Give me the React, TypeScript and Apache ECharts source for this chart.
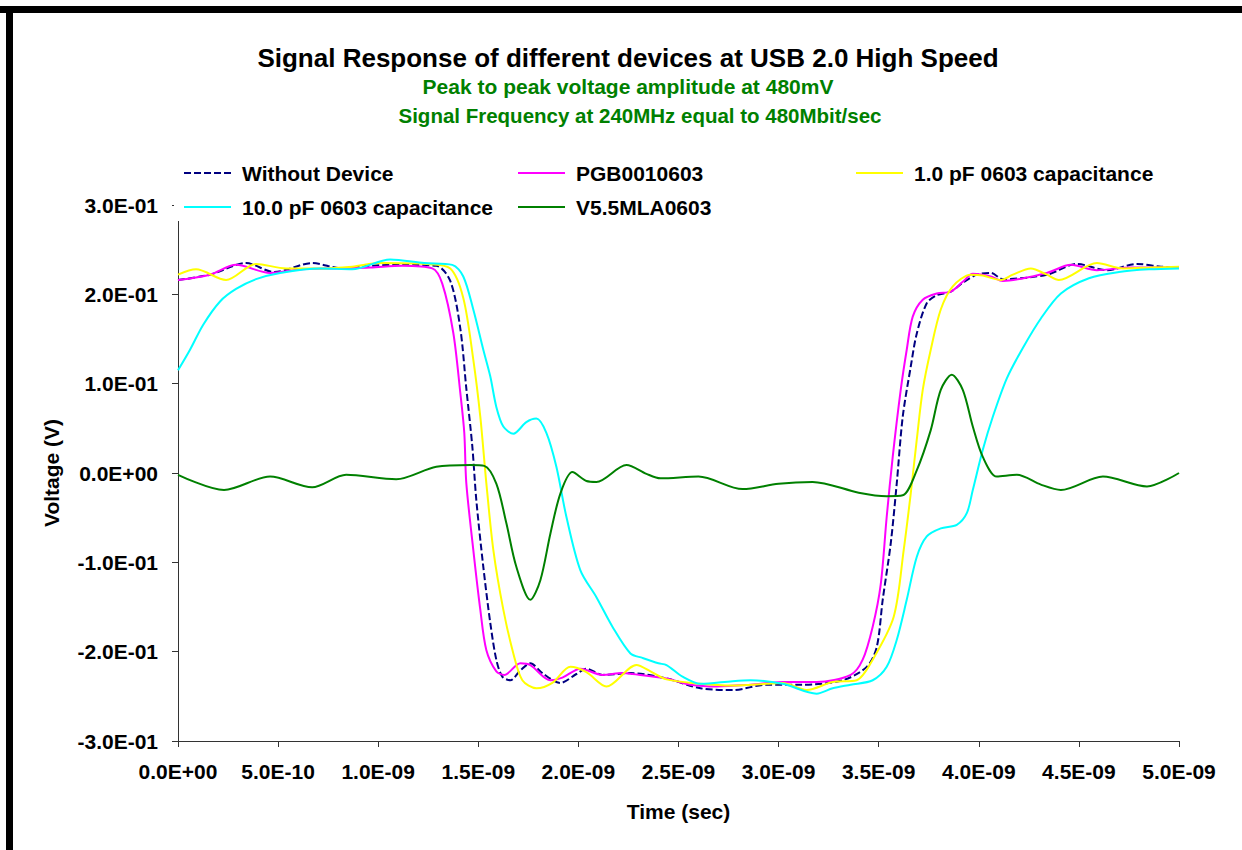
import React, { useEffect, useRef } from "react";
import * as echarts from "echarts";

// time in ns, voltage in V
const seriesNames = [
  "Without Device",
  "PGB0010603",
  "1.0 pF 0603 capacitance",
  "10.0 pF 0603 capacitance",
  "V5.5MLA0603",
];

const withoutDevice: [number, number][] = [
  [0, 0.216], [0.16, 0.222], [0.34, 0.235], [0.48, 0.225], [0.67, 0.235], [0.82, 0.229],
  [0.96, 0.232], [1.12, 0.233], [1.29, 0.232], [1.36, 0.215], [1.41, 0.162], [1.44, 0.095],
  [1.47, 0.03], [1.49, -0.03], [1.525, -0.105], [1.56, -0.168], [1.59, -0.209], [1.62, -0.228],
  [1.66, -0.232], [1.71, -0.221], [1.76, -0.213], [1.82, -0.224], [1.91, -0.235], [1.99, -0.225],
  [2.04, -0.219], [2.12, -0.226], [2.26, -0.224], [2.44, -0.23], [2.61, -0.241], [2.77, -0.243],
  [2.94, -0.237], [3.11, -0.237], [3.32, -0.232], [3.44, -0.217], [3.49, -0.195], [3.52, -0.142],
  [3.56, -0.079], [3.59, -0.012], [3.62, 0.063], [3.66, 0.119], [3.69, 0.156], [3.74, 0.19],
  [3.79, 0.199], [3.86, 0.203], [3.92, 0.213], [3.99, 0.222], [4.06, 0.224], [4.12, 0.217],
  [4.34, 0.222], [4.49, 0.234], [4.64, 0.227], [4.79, 0.234], [4.91, 0.231], [5.0, 0.23],
];

const pgb0010603: [number, number][] = [
  [0, 0.216], [0.16, 0.222], [0.29, 0.233], [0.46, 0.224], [0.62, 0.228], [0.79, 0.229],
  [0.96, 0.23], [1.12, 0.232], [1.27, 0.229], [1.32, 0.212], [1.375, 0.157], [1.41, 0.09],
  [1.43, 0.045], [1.44, -0.011], [1.475, -0.086], [1.51, -0.153], [1.54, -0.198], [1.59, -0.222],
  [1.63, -0.226], [1.71, -0.213], [1.76, -0.215], [1.86, -0.232], [1.92, -0.229], [2.01, -0.219],
  [2.12, -0.226], [2.22, -0.224], [2.27, -0.225], [2.44, -0.23], [2.56, -0.237], [2.69, -0.239],
  [2.86, -0.237], [3.02, -0.234], [3.19, -0.234], [3.36, -0.226], [3.42, -0.209], [3.47, -0.172],
  [3.51, -0.125], [3.54, -0.049], [3.57, 0.018], [3.61, 0.093], [3.64, 0.138], [3.67, 0.175],
  [3.72, 0.194], [3.79, 0.201], [3.86, 0.203], [3.92, 0.214], [3.97, 0.223], [4.06, 0.22],
  [4.12, 0.215], [4.34, 0.224], [4.46, 0.233], [4.59, 0.227], [4.76, 0.23], [4.92, 0.23], [5.0, 0.23],
];

const cap1pF: [number, number][] = [
  [0, 0.222], [0.09, 0.228], [0.24, 0.216], [0.39, 0.234], [0.54, 0.229], [0.71, 0.229],
  [0.87, 0.231], [1.01, 0.235], [1.24, 0.234], [1.36, 0.229], [1.425, 0.196], [1.475, 0.127],
  [1.51, 0.063], [1.54, -0.011], [1.575, -0.086], [1.625, -0.153], [1.675, -0.202], [1.72, -0.232],
  [1.79, -0.241], [1.87, -0.235], [1.96, -0.217], [2.04, -0.223], [2.14, -0.239], [2.29, -0.215],
  [2.36, -0.222], [2.44, -0.231], [2.61, -0.236], [2.77, -0.238], [2.94, -0.236], [3.02, -0.235],
  [3.14, -0.243], [3.27, -0.234], [3.39, -0.232], [3.47, -0.209], [3.575, -0.161], [3.625, -0.086],
  [3.66, -0.023], [3.69, 0.037], [3.72, 0.093], [3.76, 0.138], [3.81, 0.183], [3.87, 0.209],
  [3.96, 0.222], [4.02, 0.221], [4.11, 0.216], [4.17, 0.222], [4.26, 0.229], [4.34, 0.222],
  [4.4, 0.216], [4.59, 0.235], [4.72, 0.229], [4.86, 0.23], [5.0, 0.231],
];

const cap10pF: [number, number][] = [
  [0, 0.115], [0.06, 0.138], [0.126, 0.166], [0.21, 0.192], [0.29, 0.206], [0.39, 0.217],
  [0.51, 0.224], [0.71, 0.229], [0.87, 0.228], [1.06, 0.239], [1.23, 0.235], [1.37, 0.233],
  [1.425, 0.22], [1.475, 0.183], [1.525, 0.138], [1.56, 0.108], [1.59, 0.074], [1.625, 0.052],
  [1.675, 0.044], [1.74, 0.057], [1.79, 0.061], [1.84, 0.045], [1.89, 0.007], [1.94, -0.049],
  [2.01, -0.109], [2.09, -0.139], [2.17, -0.172], [2.26, -0.202], [2.32, -0.207], [2.4, -0.213],
  [2.44, -0.215], [2.52, -0.228], [2.61, -0.236], [2.77, -0.233], [2.86, -0.232], [3.02, -0.236],
  [3.19, -0.247], [3.27, -0.241], [3.36, -0.237], [3.47, -0.232], [3.54, -0.217], [3.59, -0.187],
  [3.64, -0.142], [3.69, -0.094], [3.74, -0.071], [3.81, -0.062], [3.89, -0.058], [3.94, -0.045],
  [3.97, -0.019], [4.02, 0.026], [4.07, 0.063], [4.14, 0.106], [4.22, 0.14], [4.31, 0.173],
  [4.41, 0.201], [4.55, 0.218], [4.7, 0.225], [4.85, 0.228], [5.0, 0.229],
];

const v55mla0603: [number, number][] = [
  [0, -0.002], [0.23, -0.019], [0.46, -0.004], [0.67, -0.016], [0.84, -0.002], [1.09, -0.007],
  [1.29, 0.007], [1.46, 0.009], [1.53, 0.008], [1.59, -0.012], [1.64, -0.056], [1.69, -0.105],
  [1.76, -0.142], [1.81, -0.12], [1.86, -0.068], [1.91, -0.023], [1.97, 0.001], [2.04, -0.009],
  [2.09, -0.01], [2.24, 0.009], [2.34, -0.001], [2.41, -0.006], [2.6, -0.004], [2.82, -0.018],
  [3.0, -0.012], [3.17, -0.01], [3.4, -0.022], [3.54, -0.026], [3.62, -0.025], [3.69, 0.003],
  [3.76, 0.048], [3.81, 0.093], [3.865, 0.11], [3.92, 0.093], [3.97, 0.052], [4.02, 0.018],
  [4.09, -0.004], [4.19, -0.002], [4.31, -0.013], [4.41, -0.019], [4.62, -0.004], [4.84, -0.015],
  [5.0, 0.0],
];

const seriesData = [withoutDevice, pgb0010603, cap1pF, cap10pF, v55mla0603];
const seriesColors = ["#000080", "#FF00FF", "#FFFF00", "#00FFFF", "#008000"];

const titleText = "Signal Response of different devices at USB 2.0 High Speed";
const subText1 = "Peak to peak voltage amplitude at 480mV";
const subText2 = "Signal Frequency at 240MHz equal to 480Mbit/sec";

const FONT = "'Liberation Sans', Arial, sans-serif";

function sci(v: number): string {
  if (Math.abs(v) < 1e-20) return "0.0E+00";
  const s = v.toExponential(1);
  const [m, e] = s.split("e");
  const sign = e[0] === "-" ? "-" : "+";
  const digits = e.replace(/[+-]/, "").padStart(2, "0");
  return m + "E" + sign + digits;
}

export default function App() {
  const ref = useRef<HTMLDivElement>(null);
  useEffect(() => {
    if (!ref.current) return;
    const chart = echarts.init(ref.current, undefined, { renderer: "svg" });
    const textStyleBase = { fontFamily: FONT, fontWeight: "bold" as const, fontSize: 21, color: "#000" };
    const legendCommon = {
      orient: "vertical" as const,
      top: 161,
      itemWidth: 47,
      itemHeight: 2,
      itemGap: 10,
      padding: 0,
      selectedMode: false,
      itemStyle: { opacity: 0 },
      textStyle: { ...textStyleBase, lineHeight: 24, padding: [0, 0, 0, 6] },
    };
    chart.setOption({
      animation: false,
      backgroundColor: "#fff",
      grid: { left: 178, right: 63, top: 205, bottom: 109, containLabel: false },
      legend: [
        { ...legendCommon, left: 183, data: [seriesNames[0], seriesNames[3]] },
        { ...legendCommon, left: 517, data: [seriesNames[1], seriesNames[4]] },
        { ...legendCommon, left: 855, data: [seriesNames[2]] },
      ],
      xAxis: {
        type: "value",
        min: 0,
        max: 5e-9,
        interval: 5e-10,
        name: "Time (sec)",
        nameLocation: "middle",
        nameGap: 60,
        nameTextStyle: { ...textStyleBase },
        axisLine: { onZero: false, lineStyle: { color: "#333", width: 1 } },
        axisTick: { show: true, length: 6, lineStyle: { color: "#333" } },
        axisLabel: { ...textStyleBase, margin: 20, formatter: (v: number) => sci(v) },
        splitLine: { show: false },
      },
      yAxis: {
        type: "value",
        min: -0.3,
        max: 0.3,
        interval: 0.1,
        name: "Voltage (V)",
        nameLocation: "middle",
        nameGap: 116,
        nameTextStyle: { ...textStyleBase },
        axisLine: { show: true, onZero: false, lineStyle: { color: "#333", width: 1 } },
        axisTick: { show: true, length: 6, lineStyle: { color: "#333" } },
        axisLabel: { ...textStyleBase, margin: 20, formatter: (v: number) => sci(v) },
        splitLine: { show: false },
      },
      graphic: [
        { type: "rect", shape: { x: 0, y: 6, width: 1242, height: 7 }, style: { fill: "#000" }, z: 100 },
        { type: "rect", shape: { x: 6, y: 6, width: 7, height: 850 }, style: { fill: "#000" }, z: 100 },
        { type: "rect", shape: { x: 174, y: 199, width: 9, height: 22 }, style: { fill: "#fff" }, z: 100 },
        {
          type: "text", x: 628, y: 58, z: 100,
          style: { text: titleText, align: "center", verticalAlign: "middle", fontSize: 26, fontWeight: "bold", fontFamily: FONT, fill: "#000" },
        },
        {
          type: "text", x: 628, y: 86, z: 100,
          style: { text: subText1, align: "center", verticalAlign: "middle", fontSize: 21, fontWeight: "bold", fontFamily: FONT, fill: "#008000" },
        },
        {
          type: "text", x: 640, y: 115, z: 100,
          style: { text: subText2, align: "center", verticalAlign: "middle", fontSize: 20.5, fontWeight: "bold", fontFamily: FONT, fill: "#008000" },
        },
      ],
      series: seriesNames.map((name, i) => ({
        name,
        type: "line",
        data: seriesData[i].map(([t, v]) => [t * 1e-9, v]),
        symbol: "none",
        showSymbol: false,
        smooth: 0.3,
        lineStyle: { color: seriesColors[i], width: 2, type: i === 0 ? [7, 3] : "solid" },
        itemStyle: { color: seriesColors[i] },
      })),
    });
    return () => chart.dispose();
  }, []);
  return (
    <div
      ref={ref}
      style={{ position: "absolute", left: 0, top: 0, width: 1242, height: 850, background: "#fff" }}
    />
  );
}
